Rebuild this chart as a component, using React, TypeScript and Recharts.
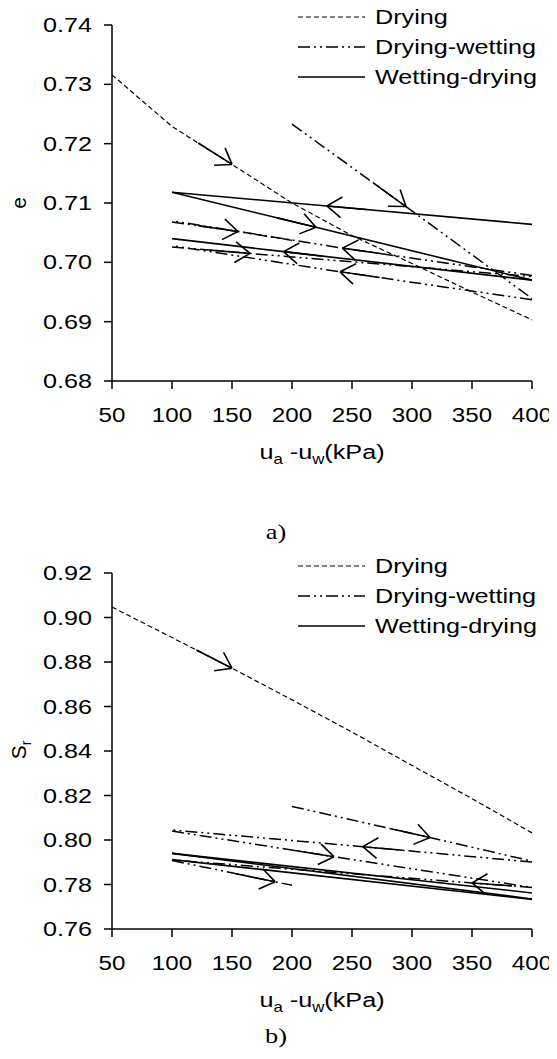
import { LineChart, Line, XAxis, YAxis } from 'recharts';

// suction ticks (kPa) and y ticks
const suctionTicks = [50, 100, 150, 200, 250, 300, 350, 400];
const eTicks = [0.68, 0.69, 0.7, 0.71, 0.72, 0.73, 0.74];
const srTicks = [0.76, 0.78, 0.8, 0.82, 0.84, 0.86, 0.88, 0.9, 0.92];

// a) void ratio e
const aDrying = [
  { k: 50, v: 0.7316 }, { k: 100, v: 0.7229 }, { k: 150, v: 0.7165, arrow: true }, { k: 200, v: 0.71 },
  { k: 250, v: 0.7045 }, { k: 300, v: 0.6998 }, { k: 350, v: 0.695 }, { k: 400, v: 0.6903 },
];
const aDW1 = [{ k: 200, v: 0.7233 }, { k: 295, v: 0.7094, arrow: true }, { k: 400, v: 0.6939 }];
const aDW2 = [{ k: 400, v: 0.6937 }, { k: 240, v: 0.6984, arrow: true }, { k: 100, v: 0.7028 }];
const aDW3 = [{ k: 100, v: 0.7026 }, { k: 165, v: 0.7015, arrow: true }, { k: 400, v: 0.6976 }];
const aDW4 = [{ k: 400, v: 0.6978 }, { k: 242, v: 0.7024, arrow: true }, { k: 100, v: 0.707 }];
const aDW5 = [{ k: 100, v: 0.7068 }, { k: 155, v: 0.7052, arrow: true }, { k: 200, v: 0.7037 }];
const aWD1 = [{ k: 400, v: 0.7064 }, { k: 229, v: 0.7095, arrow: true }, { k: 100, v: 0.7118 }];
const aWD2 = [{ k: 100, v: 0.7118 }, { k: 220, v: 0.7059, arrow: true }, { k: 400, v: 0.697 }];
const aWD3 = [{ k: 400, v: 0.697 }, { k: 193, v: 0.7018, arrow: true }, { k: 100, v: 0.704 }];

// b) degree of saturation Sr
const bDrying = [
  { k: 50, v: 0.9047 }, { k: 100, v: 0.891 }, { k: 150, v: 0.8772, arrow: true }, { k: 200, v: 0.863 },
  { k: 250, v: 0.8485 }, { k: 300, v: 0.8335 }, { k: 350, v: 0.8186 }, { k: 400, v: 0.8032 },
];
const bDW1 = [{ k: 200, v: 0.8151 }, { k: 315, v: 0.8011, arrow: true }, { k: 400, v: 0.7905 }];
const bDW2 = [{ k: 400, v: 0.7901 }, { k: 259, v: 0.797, arrow: true }, { k: 100, v: 0.8045 }];
const bDW3 = [{ k: 100, v: 0.804 }, { k: 235, v: 0.7925, arrow: true }, { k: 400, v: 0.7787 }];
const bDW4 = [{ k: 400, v: 0.7787 }, { k: 350, v: 0.7807, arrow: true }, { k: 100, v: 0.791 }];
const bDW5 = [{ k: 100, v: 0.7908 }, { k: 186, v: 0.7812, arrow: true }, { k: 200, v: 0.7797 }];
const bWD1 = [{ k: 400, v: 0.7762 }, { k: 100, v: 0.794 }];
const bWD2 = [{ k: 100, v: 0.794 }, { k: 400, v: 0.7735 }];
const bWD3 = [{ k: 400, v: 0.7733 }, { k: 100, v: 0.7912 }];

const FONT = '"Liberation Sans", Arial, sans-serif';
const FS = 21;
const STRETCH = 1.2;
const DRY_DASH = '5 3';
const DW_DASH = '12 4 2 4 2 4';
const W = 549;

const renderArrow = (props: any) => {
  const { cx, cy, index, points, payload } = props;
  if (!payload?.arrow || !points || index === 0) return <g key={`n-${index}`} />;
  const p = points[index - 1];
  const dx = cx - p.x;
  const dy = cy - p.y;
  const len = Math.hypot(dx, dy) || 1;
  const ux = dx / len;
  const uy = dy / len;
  const arm = (a: number) => {
    const c = Math.cos(a);
    const s = Math.sin(a);
    const bx = -ux * c + uy * s;
    const by = -ux * s - uy * c;
    return `M${cx},${cy}L${cx + bx * 18},${cy + by * 18}`;
  };
  const ang = (35 * Math.PI) / 180;
  return (
    <path
      key={`a-${index}`}
      d={`M${cx - ux * 40},${cy - uy * 40}L${cx},${cy}${arm(ang)}${arm(-ang)}`}
      stroke="#000"
      strokeWidth={1.6}
      fill="none"
    />
  );
};

const XTick = ({ x, y, payload }: any) => (
  <g transform={`translate(${x},${y + 33}) scale(1.15,1)`}>
    <text x={0} y={0} textAnchor="middle" fontFamily={FONT} fontSize={FS} fill="#000">
      {payload.value}
    </text>
  </g>
);

const YTick = ({ x, y, payload }: any) => (
  <g transform={`translate(${x},${y + 7}) scale(${STRETCH},1)`}>
    <text x={0} y={0} textAnchor="end" fontFamily={FONT} fontSize={FS} fill="#000">
      {Number(payload.value).toFixed(2)}
    </text>
  </g>
);

const axisStyle = { stroke: '#000', strokeWidth: 1.5 };

const series = (dry: any[], dw: any[][], wd: any[][]) => [
  <Line key="dry" data={dry} dataKey="v" type="linear" stroke="#000" strokeWidth={1.2} strokeDasharray={DRY_DASH} dot={renderArrow} activeDot={false} isAnimationActive={false} />,
  ...dw.map((d, i) => (
    <Line key={`dw${i}`} data={d} dataKey="v" type="linear" stroke="#000" strokeWidth={1.5} strokeDasharray={DW_DASH} dot={renderArrow} activeDot={false} isAnimationActive={false} />
  )),
  ...wd.map((d, i) => (
    <Line key={`wd${i}`} data={d} dataKey="v" type="linear" stroke="#000" strokeWidth={1.6} dot={renderArrow} activeDot={false} isAnimationActive={false} />
  )),
];

const Panel = ({ top, domain, ticks, children }: any) => (
  <div style={{ position: 'absolute', top, left: 0 }}>
    <LineChart width={W} height={433} margin={{ top: 17, right: 25, left: 0, bottom: 0 }} style={{ overflow: 'visible' }}>
      <XAxis type="number" dataKey="k" domain={[50, 400]} ticks={suctionTicks} tick={<XTick />} tickSize={8} tickMargin={0} axisLine={axisStyle} tickLine={axisStyle} height={60} interval={0} />
      <YAxis type="number" domain={domain} ticks={ticks} tick={<YTick />} tickSize={8} tickMargin={12} axisLine={axisStyle} tickLine={axisStyle} width={104} allowDataOverflow interval={0} />
      {children}
    </LineChart>
  </div>
);

const Legend = ({ y }: { y: number }) => (
  <g>
    {[
      { label: 'Drying', dash: DRY_DASH, w: 1.2 },
      { label: 'Drying-wetting', dash: DW_DASH, w: 1.5 },
      { label: 'Wetting-drying', dash: undefined, w: 1.6 },
    ].map((it, i) => (
      <g key={it.label}>
        <line x1={290} x2={357} y1={y + i * 30} y2={y + i * 30} stroke="#000" strokeWidth={it.w} strokeDasharray={it.dash} />
        <g transform={`translate(367,${y + i * 30 + 7}) scale(${STRETCH},1)`}>
          <text x={0} y={0} fontFamily={FONT} fontSize={FS} fill="#000">{it.label}</text>
        </g>
      </g>
    ))}
  </g>
);

const XTitle = ({ y }: { y: number }) => (
  <g transform={`translate(314,${y}) scale(${STRETCH},1)`}>
    <text x={0} y={0} textAnchor="middle" fontFamily={FONT} fontSize={FS} fill="#000">
      u<tspan fontSize={14} dy={5}>a</tspan>
      <tspan dy={-5}> -u</tspan>
      <tspan fontSize={14} dy={5}>w</tspan>
      <tspan dy={-5}>(kPa)</tspan>
    </text>
  </g>
);

const Caption = ({ y, text }: { y: number; text: string }) => (
  <g transform={`translate(268,${y}) scale(1.2,1)`}>
    <text x={0} y={0} textAnchor="middle" fontFamily='"Liberation Serif", "Times New Roman", serif' fontSize={22} fill="#000">{text}</text>
  </g>
);

export default function App() {
  return (
    <div style={{ position: 'relative', width: W, height: 1040, background: '#fff' }}>
      <Panel top={0} domain={[0.68, 0.74]} ticks={eTicks}>
        {series(aDrying, [aDW1, aDW2, aDW3, aDW4, aDW5], [aWD1, aWD2, aWD3])}
      </Panel>
      <Panel top={548} domain={[0.76, 0.92]} ticks={srTicks}>
        {series(bDrying, [bDW1, bDW2, bDW3, bDW4, bDW5], [bWD1, bWD2, bWD3])}
      </Panel>
      <svg width={W} height={1040} style={{ position: 'absolute', top: 0, left: 0, pointerEvents: 'none', overflow: 'visible' }}>
        <Legend y={9} />
        <Legend y={558} />
        <XTitle y={451} />
        <XTitle y={999} />
        <Caption y={531} text="a)" />
        <Caption y={1035} text="b)" />
        <g transform="translate(18,195) rotate(-90)">
          <text x={0} y={0} textAnchor="middle" fontFamily={FONT} fontSize={FS} fill="#000">e</text>
        </g>
        <g transform="translate(18,742) rotate(-90)">
          <text x={0} y={0} textAnchor="middle" fontFamily={FONT} fontSize={FS} fill="#000">
            S<tspan fontSize={14} dy={5}>r</tspan>
          </text>
        </g>
      </svg>
    </div>
  );
}
